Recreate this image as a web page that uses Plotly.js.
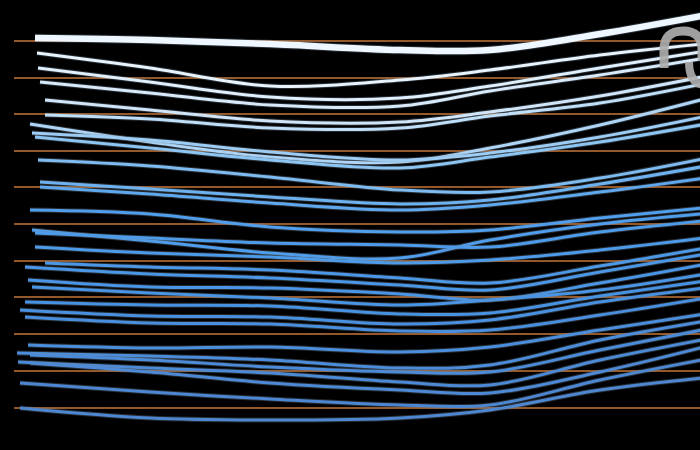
<!DOCTYPE html>
<html>
<head>
<meta charset="utf-8">
<script src="https://cdn.plot.ly/plotly-3.0.1.min.js"></script>
<style>html,body{margin:0;padding:0;background:#000;}#chart{width:700px;height:450px;}</style>
</head>
<body>
<div id="chart"></div>
<script>
// Shared x positions (after each line's own start point)
const xPositions = [150, 270, 400, 490, 600, 700];
// Start x of each line
const startX = [35,37,38,40,45,45,30,32,35,38,40,40,30,32,35,35,45,25,28,32,25,20,25,28,17,30,18,30,20,20];
// Values per line: start, then at xPositions
const line01 = [38, 40, 44, 50, 50, 34, 14];
const line02 = [53, 68, 86, 80, 70, 55, 43];
const line03 = [68, 82, 97, 98, 86, 68, 50];
const line04 = [82, 93, 105, 106, 91, 75, 57];
const line05 = [100, 110, 121, 122, 112, 96, 75];
const line06 = [115, 119, 128, 128, 116, 103, 82];
const line07 = [124, 142, 157, 162, 148, 125, 97];
const line08 = [133, 140, 152, 160, 153, 137, 115];
const line09 = [137, 148, 160, 168, 157, 142, 123];
const line10 = [160, 166, 177, 190, 192, 178, 157];
const line11 = [182, 189, 197, 204, 200, 184, 165];
const line12 = [187, 194, 203, 210, 205, 192, 177];
const line13 = [210, 214, 227, 232, 230, 218, 207];
const line14 = [230, 241, 253, 258, 240, 224, 213];
const line15 = [233, 238, 243, 245, 247, 232, 220];
const line16 = [247, 253, 257, 263, 260, 250, 237];
const line17 = [263, 267, 270, 278, 283, 266, 247];
const line18 = [267, 274, 278, 285, 290, 272, 253];
const line19 = [280, 287, 288, 294, 300, 283, 263];
const line20 = [287, 293, 298, 305, 300, 290, 273];
const line21 = [302, 305, 306, 314, 313, 296, 280];
const line22 = [310, 316, 317, 324, 320, 302, 287];
const line23 = [317, 323, 324, 331, 330, 315, 297];
const line24 = [345, 348, 347, 352, 347, 330, 313];
const line25 = [353, 356, 360, 368, 365, 340, 320];
const line26 = [355, 360, 367, 372, 372, 350, 328];
const line27 = [362, 368, 373, 382, 385, 360, 338];
const line28 = [363, 372, 383, 390, 393, 372, 345];
const line29 = [383, 392, 399, 405, 405, 380, 358];
const line30 = [408, 418, 420, 418, 410, 390, 377];
const gridLevels = [41, 78, 114, 151, 187, 224, 261, 297, 334, 371, 408];

const lines = [line01,line02,line03,line04,line05,line06,line07,line08,line09,line10,
  line11,line12,line13,line14,line15,line16,line17,line18,line19,line20,
  line21,line22,line23,line24,line25,line26,line27,line28,line29,line30];

function colorFor(i){
  const stops = [[0,[238,247,255]],[4,[208,230,248]],[8,[140,196,242]],[12,[80,158,236]],[20,[72,146,226]],[29,[78,134,208]]];
  for(let k=0;k<stops.length-1;k++){
    const [a,ca]=stops[k],[b,cb]=stops[k+1];
    if(i>=a&&i<=b){const t=(i-a)/(b-a);return 'rgb('+ca.map((c,j)=>Math.round(c+(cb[j]-c)*t)).join(',')+')';}
  }
  return 'rgb(78,134,208)';
}

const traces = [];
lines.forEach((vals,i)=>{
  const xs=[startX[i]].concat(xPositions.slice(0,-1)).concat([712]);
  const ys=vals;
  const w = i===0 ? 6.5 : 3;
  traces.push({x:xs,y:ys,mode:'lines',line:{shape:'spline',smoothing:1,width:w+2,color:'rgba(120,140,160,0.3)'},hoverinfo:'skip'});
  traces.push({x:xs,y:ys,mode:'lines',line:{shape:'spline',smoothing:1,width:w,color:colorFor(i)},hoverinfo:'skip'});
});

const layout = {
  width:700,height:450,
  paper_bgcolor:'#000',plot_bgcolor:'#000',
  margin:{l:14,r:0,t:0,b:0},
  showlegend:false,
  xaxis:{range:[14,700],showgrid:false,zeroline:false,showticklabels:false,ticks:''},
  yaxis:{range:[450,0],tickvals:gridLevels,showgrid:true,gridcolor:'#94592a',gridwidth:1.5,zeroline:false,showticklabels:false,ticks:''},
  shapes:[
    {type:'path',xref:'x',yref:'y',layer:'above',path:'M 664,68 L 664,50 Q 664,31 683,31 Q 702,31 702,50 L 702,60',line:{color:'rgba(172,172,172,0.92)',width:9}},
    {type:'path',xref:'x',yref:'y',layer:'above',path:'M 689,62 Q 689,85 706,85',line:{color:'rgba(172,172,172,0.92)',width:8}}
  ]
};
Plotly.newPlot('chart',traces,layout,{staticPlot:true,displayModeBar:false});
</script>
</body>
</html>
